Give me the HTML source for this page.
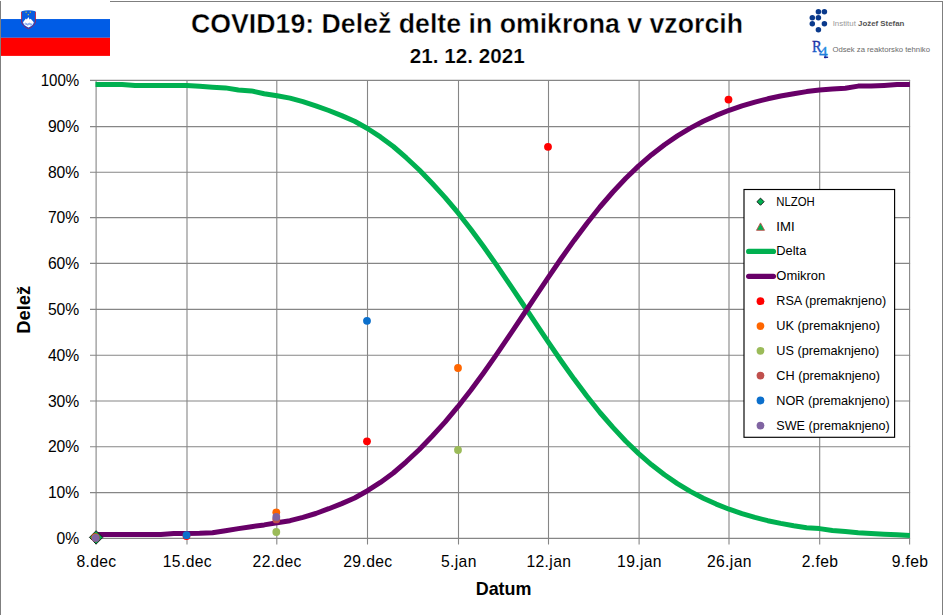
<!DOCTYPE html>
<html><head><meta charset="utf-8"><title>COVID19: Delež delte in omikrona v vzorcih</title>
<style>
html,body{margin:0;padding:0;background:#fff;}
body{width:943px;height:615px;overflow:hidden;font-family:"Liberation Sans",sans-serif;}
svg{display:block;position:absolute;left:0;top:0;}
text{font-family:"Liberation Sans",sans-serif;fill:#000;}
.b{font-weight:bold;}
.t1{stroke:#fff;stroke-width:0.4px;paint-order:fill stroke;}
.t2{stroke:#fff;stroke-width:0.22px;paint-order:fill stroke;}
</style></head><body>
<svg width="943" height="615" viewBox="0 0 943 615">
<rect x="0" y="0" width="943" height="615" fill="#ffffff"/>
<g fill="#7f7f7f"><rect x="0" y="1" width="1" height="614"/><rect x="110" y="1" width="833" height="1"/><rect x="942" y="1" width="1" height="614"/></g>
<g>
<rect x="1" y="0" width="109" height="19" fill="#ffffff"/>
<rect x="1" y="19.05" width="109" height="18.75" fill="#005ce6"/>
<rect x="1" y="37.8" width="109" height="18.1" fill="#ff0000"/>
<g>
<path d="M21.5,11.3 Q28.5,9.1 35.5,11.3 L35.5,20.5 C35.4,24.6 32.3,26.9 28.5,28.7 C24.7,26.9 21.6,24.6 21.5,20.5 Z" fill="#0a5be0"/>
<path d="M21.5,11.9 L21.5,20.5 C21.6,24.6 24.7,26.9 28.5,28.7 C32.3,26.9 35.4,24.6 35.5,20.5 L35.5,11.9" fill="none" stroke="#c8102e" stroke-width="0.75"/>
<path d="M23,22.2 L25.9,18.5 L26.9,19.6 L28.3,16.9 L29.7,19.6 L30.7,18.7 L33.8,22.2 C33.4,25 31,26.2 28.5,27.4 C26,26.2 23.5,25 23,22.2 Z" fill="#ffffff"/>
<path d="M24.6,23.7 q0.95,-0.9 1.9,0 t1.9,0 t1.9,0 t1.9,0 M25.4,24.7 q0.8,-0.8 1.6,0 t1.6,0 t1.6,0 t1.6,0" fill="none" stroke="#2a6ee6" stroke-width="0.65"/>
<circle cx="26.1" cy="12.2" r="0.6" fill="#ffdd00"/><circle cx="30.3" cy="12.2" r="0.6" fill="#ffdd00"/><circle cx="28.3" cy="14.7" r="0.6" fill="#ffdd00"/>
</g>
</g>
<text class="b t1" x="467" y="32.7" font-size="28" text-anchor="middle" textLength="552" lengthAdjust="spacingAndGlyphs">COVID19: Delež delte in omikrona v vzorcih</text>
<text class="b t2" x="467.3" y="63.4" font-size="19.8" text-anchor="middle" textLength="115" lengthAdjust="spacingAndGlyphs">21. 12. 2021</text>
<g fill="#0a3a8c"><circle cx="818.4" cy="11.8" r="2.75"/><circle cx="824.4" cy="11.8" r="2.75"/><circle cx="812.3" cy="17.7" r="2.75"/><circle cx="818.4" cy="17.7" r="2.75"/><circle cx="812.3" cy="23.7" r="2.75"/><circle cx="824.4" cy="23.7" r="2.75"/><circle cx="818.4" cy="29.7" r="2.75"/></g>
<text x="832.7" y="25.8" font-size="8" textLength="71.7" lengthAdjust="spacingAndGlyphs" style="fill:#9a9a9a">Institut <tspan font-weight="bold" style="fill:#555">Jožef Stefan</tspan></text>
<defs><linearGradient id="gr" x1="0" y1="0" x2="0" y2="1"><stop offset="0" stop-color="#16168f"/><stop offset="1" stop-color="#1b6fd6"/></linearGradient><linearGradient id="g4" x1="0" y1="0" x2="0" y2="1"><stop offset="0" stop-color="#2196e8"/><stop offset="0.7" stop-color="#1e7bd8"/><stop offset="1" stop-color="#17178f"/></linearGradient></defs>
<text transform="translate(812,51.9) scale(0.9,1)" font-size="16.2" style="font-family:'Liberation Serif',serif;fill:url(#gr);stroke:url(#gr);stroke-width:0.35">R</text>
<text x="819" y="57.8" font-size="17.5" style="font-family:'Liberation Serif',serif;fill:url(#g4);stroke:url(#g4);stroke-width:0.3">4</text><rect x="824" y="56.6" width="4.1" height="1.3" fill="#17178f"/>
<text x="832.4" y="51.8" font-size="8" style="fill:#6a6a6a" textLength="97.6" lengthAdjust="spacingAndGlyphs">Odsek za reaktorsko tehniko</text>
<g stroke="#868686" stroke-width="1.1" fill="none">
<line x1="90" y1="538.40" x2="910.10" y2="538.40"/><line x1="90" y1="492.60" x2="910.10" y2="492.60"/><line x1="90" y1="446.80" x2="910.10" y2="446.80"/><line x1="90" y1="401.00" x2="910.10" y2="401.00"/><line x1="90" y1="355.20" x2="910.10" y2="355.20"/><line x1="90" y1="309.40" x2="910.10" y2="309.40"/><line x1="90" y1="263.40" x2="910.10" y2="263.40"/><line x1="90" y1="217.60" x2="910.10" y2="217.60"/><line x1="90" y1="172.20" x2="910.10" y2="172.20"/><line x1="90" y1="126.60" x2="910.10" y2="126.60"/><line x1="90" y1="80.40" x2="910.10" y2="80.40"/>
<line x1="96.10" y1="79.90" x2="96.10" y2="544.40"/><line x1="187.00" y1="79.90" x2="187.00" y2="544.40"/><line x1="276.80" y1="79.90" x2="276.80" y2="544.40"/><line x1="367.50" y1="79.90" x2="367.50" y2="544.40"/><line x1="458.50" y1="79.90" x2="458.50" y2="544.40"/><line x1="548.50" y1="79.90" x2="548.50" y2="544.40"/><line x1="639.10" y1="79.90" x2="639.10" y2="544.40"/><line x1="729.00" y1="79.90" x2="729.00" y2="544.40"/><line x1="819.70" y1="79.90" x2="819.70" y2="544.40"/><line x1="909.60" y1="79.90" x2="909.60" y2="544.40"/>
</g>
<text x="79.3" y="544.0" font-size="15.7" text-anchor="end">0%</text><text x="79.3" y="498.2" font-size="15.7" text-anchor="end">10%</text><text x="79.3" y="452.4" font-size="15.7" text-anchor="end">20%</text><text x="79.3" y="406.6" font-size="15.7" text-anchor="end">30%</text><text x="79.3" y="360.8" font-size="15.7" text-anchor="end">40%</text><text x="79.3" y="315.0" font-size="15.7" text-anchor="end">50%</text><text x="79.3" y="269.2" font-size="15.7" text-anchor="end">60%</text><text x="79.3" y="223.4" font-size="15.7" text-anchor="end">70%</text><text x="79.3" y="177.6" font-size="15.7" text-anchor="end">80%</text><text x="79.3" y="131.8" font-size="15.7" text-anchor="end">90%</text><text x="79.3" y="86.0" font-size="15.7" text-anchor="end" textLength="38.6" lengthAdjust="spacingAndGlyphs">100%</text>
<text x="96.5" y="567.4" font-size="15.7" text-anchor="middle" letter-spacing="0.35">8.dec</text><text x="187.4" y="567.4" font-size="15.7" text-anchor="middle" letter-spacing="0.35">15.dec</text><text x="277.2" y="567.4" font-size="15.7" text-anchor="middle" letter-spacing="0.35">22.dec</text><text x="367.9" y="567.4" font-size="15.7" text-anchor="middle" letter-spacing="0.35">29.dec</text><text x="458.9" y="567.4" font-size="15.7" text-anchor="middle" letter-spacing="0.35">5.jan</text><text x="548.9" y="567.4" font-size="15.7" text-anchor="middle" letter-spacing="0.35">12.jan</text><text x="639.5" y="567.4" font-size="15.7" text-anchor="middle" letter-spacing="0.35">19.jan</text><text x="729.4" y="567.4" font-size="15.7" text-anchor="middle" letter-spacing="0.35">26.jan</text><text x="820.1" y="567.4" font-size="15.7" text-anchor="middle" letter-spacing="0.35">2.feb</text><text x="910.0" y="567.4" font-size="15.7" text-anchor="middle" letter-spacing="0.35">9.feb</text>
<text class="b" x="503.6" y="594.6" font-size="18.4" text-anchor="middle" textLength="55.8" lengthAdjust="spacingAndGlyphs">Datum</text>
<text class="b" transform="translate(30.1,309.8) rotate(-90)" font-size="18.6" text-anchor="middle" textLength="48" lengthAdjust="spacingAndGlyphs">Delež</text>
<path d="M95.5,84.6 L109.2,84.6 L122.1,84.6 L135.0,85.4 L148.0,85.4 L160.9,85.4 L173.8,85.4 L186.7,85.4 L199.6,86.3 L212.5,87.2 L225.4,87.9 L238.4,90.0 L251.3,90.9 L264.2,93.7 L277.1,95.8 L290.0,98.1 L302.9,101.6 L315.8,105.8 L328.8,110.5 L341.7,115.6 L354.6,121.3 L367.5,128.5 L380.4,136.9 L393.3,146.5 L406.2,157.7 L419.1,169.8 L432.1,183.3 L445.0,197.4 L457.9,212.7 L470.8,229.2 L483.7,246.8 L496.6,265.1 L509.5,284.1 L522.5,303.5 L535.4,322.9 L548.3,342.2 L561.2,361.0 L574.1,379.1 L587.0,396.3 L599.9,412.5 L612.9,427.4 L625.8,441.2 L638.7,453.6 L651.6,464.8 L664.5,474.8 L677.4,483.6 L690.3,491.4 L703.3,498.2 L716.2,504.1 L729.1,509.2 L742.0,513.6 L754.9,517.4 L767.8,520.7 L780.7,523.4 L793.7,525.8 L806.6,527.8 L819.5,528.6 L832.4,530.5 L845.3,531.6 L858.2,532.7 L871.1,533.5 L884.1,534.2 L897.0,534.8 L909.9,535.4" fill="none" stroke="#00b050" stroke-width="5.0" stroke-linejoin="round"/>
<path d="M95.5,534.4 L109.2,534.4 L122.1,534.4 L135.0,534.4 L148.0,534.4 L160.9,534.4 L173.8,533.4 L186.7,533.4 L199.6,533.2 L212.5,532.7 L225.4,530.7 L238.4,528.6 L251.3,526.7 L264.2,524.9 L277.1,522.8 L290.0,520.7 L302.9,517.3 L315.8,513.5 L328.8,508.7 L341.7,503.6 L354.6,498.0 L367.5,490.7 L380.4,482.4 L393.3,473.0 L406.2,461.8 L419.1,449.7 L432.1,436.2 L445.0,422.1 L457.9,406.7 L470.8,390.2 L483.7,372.7 L496.6,354.4 L509.5,335.4 L522.5,316.0 L535.4,296.6 L548.3,277.3 L561.2,258.5 L574.1,240.4 L587.0,223.2 L599.9,207.0 L612.9,192.0 L625.8,178.3 L638.7,165.9 L651.6,154.7 L664.5,144.7 L677.4,135.9 L690.3,128.1 L703.3,121.3 L716.2,115.4 L729.1,110.3 L742.0,105.9 L754.9,102.1 L767.8,98.8 L780.7,96.0 L793.7,93.7 L806.6,91.6 L819.5,89.9 L832.4,89.1 L845.3,88.2 L858.2,86.1 L871.1,86.1 L884.1,85.4 L897.0,84.5 L909.9,84.5" fill="none" stroke="#680068" stroke-width="5.0" stroke-linejoin="round"/>
<path d="M96.1,530.7 L102.8,537.4 L96.1,544.1 L89.4,537.4 Z" fill="#00b050" stroke="#111" stroke-width="0.9"/>
<circle cx="95.6" cy="537.5" r="3.9" fill="#ff0000"/><circle cx="186.5" cy="536.1" r="3.9" fill="#ff0000"/><circle cx="367.0" cy="441.3" r="3.9" fill="#ff0000"/><circle cx="548.0" cy="146.8" r="3.9" fill="#ff0000"/><circle cx="728.5" cy="99.6" r="3.9" fill="#ff0000"/>
<circle cx="95.3" cy="537.4" r="3.9" fill="#ff6600"/><circle cx="276.3" cy="512.3" r="3.9" fill="#ff6600"/><circle cx="458.0" cy="368.0" r="3.9" fill="#ff6600"/>
<circle cx="276.3" cy="532.0" r="3.9" fill="#9bbb59"/><circle cx="458.0" cy="450.0" r="3.9" fill="#9bbb59"/>
<circle cx="276.3" cy="519.4" r="3.9" fill="#c0504d"/>
<circle cx="186.5" cy="535.2" r="3.9" fill="#0b6fcc"/><circle cx="367.0" cy="320.8" r="3.9" fill="#0b6fcc"/>
<circle cx="95.6" cy="537.9" r="3.9" fill="#8064a2"/><circle cx="276.3" cy="516.9" r="3.9" fill="#8064a2"/>
<rect x="744" y="189.5" width="150.6" height="247.8" fill="#fff" stroke="#000" stroke-width="1.15"/>
<path d="M760.5,198.1 L764.1,201.7 L760.5,205.3 L756.9,201.7 Z" fill="#00b050" stroke="#111" stroke-width="0.9"/>
<path d="M760.5,222.9 l4,7.4 h-8 Z" fill="#00b050" stroke="#c0504d" stroke-width="0.9"/>
<line x1="748.7" y1="251.4" x2="773.4" y2="251.4" stroke="#00b050" stroke-width="5.3" stroke-linecap="round"/>
<line x1="748.7" y1="276.3" x2="773.4" y2="276.3" stroke="#680068" stroke-width="5.3" stroke-linecap="round"/>
<circle cx="760.5" cy="301.2" r="3.9" fill="#ff0000"/><circle cx="760.5" cy="326.1" r="3.9" fill="#ff6600"/><circle cx="760.5" cy="350.8" r="3.9" fill="#9bbb59"/><circle cx="760.5" cy="375.6" r="3.9" fill="#c0504d"/><circle cx="760.5" cy="400.5" r="3.9" fill="#0b6fcc"/><circle cx="760.5" cy="425.6" r="3.9" fill="#8064a2"/>
<text x="776.3" y="205.7" font-size="12.7" textLength="38.5" lengthAdjust="spacingAndGlyphs">NLZOH</text><text x="776.3" y="230.8" font-size="12.7" textLength="18.3" lengthAdjust="spacingAndGlyphs">IMI</text><text x="776.3" y="255.4" font-size="12.7" textLength="30.0" lengthAdjust="spacingAndGlyphs">Delta</text><text x="776.3" y="280.3" font-size="12.7" textLength="49.0" lengthAdjust="spacingAndGlyphs">Omikron</text><text x="776.3" y="305.2" font-size="12.7" textLength="109.8" lengthAdjust="spacingAndGlyphs">RSA (premaknjeno)</text><text x="776.3" y="330.1" font-size="12.7" textLength="103.7" lengthAdjust="spacingAndGlyphs">UK (premaknjeno)</text><text x="776.3" y="354.8" font-size="12.7" textLength="102.9" lengthAdjust="spacingAndGlyphs">US (premaknjeno)</text><text x="776.3" y="379.6" font-size="12.7" textLength="103.7" lengthAdjust="spacingAndGlyphs">CH (premaknjeno)</text><text x="776.3" y="404.5" font-size="12.7" textLength="113.4" lengthAdjust="spacingAndGlyphs">NOR (premaknjeno)</text><text x="776.3" y="429.6" font-size="12.7" textLength="113.4" lengthAdjust="spacingAndGlyphs">SWE (premaknjeno)</text>
</svg>
</body></html>
